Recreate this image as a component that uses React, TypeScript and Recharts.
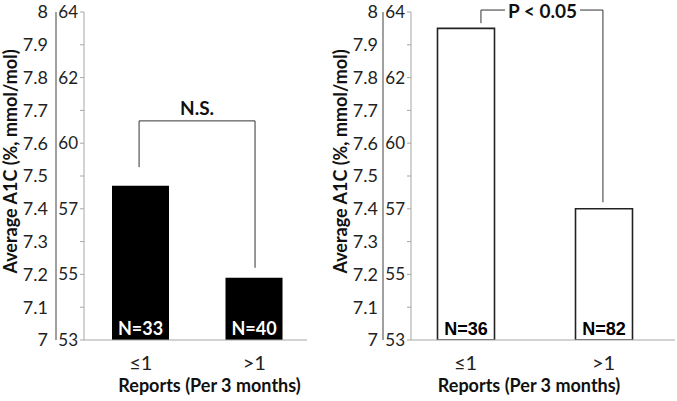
import React from 'react';
import { BarChart, Bar, XAxis, YAxis, ReferenceLine, ReferenceDot, LabelList } from 'recharts';

const categories = ['≤1', '>1'];
const leftValues = [7.47, 7.19];
const rightValues = [7.95, 7.4];
const leftCounts = ['N=33', 'N=40'];
const rightCounts = ['N=36', 'N=82'];
const pctTicks = [7, 7.1, 7.2, 7.3, 7.4, 7.5, 7.6, 7.7, 7.8, 7.9, 8];
const pctLabels = ['7', '7.1', '7.2', '7.3', '7.4', '7.5', '7.6', '7.7', '7.8', '7.9', '8'];
const mmolLabels = ['53', '', '55', '', '57', '', '60', '', '62', '', '64'];
const yTitle = 'Average A1C (%, mmol/mol)';
const xTitle = 'Reports (Per 3 months)';
const leftSig = 'N.S.';
const rightSig = 'P < 0.05';
// annotation positions: x as fraction of plot width, y in A1C %
const leftXTickFractions = [0, 0.489, 1];
const rightXTickFractions = [0, 0.477, 1];
const leftBracket = [
  [{ x: 0.247, y: 7.527 }, { x: 0.247, y: 7.668 }],
  [{ x: 0.247, y: 7.668 }, { x: 0.767, y: 7.668 }],
  [{ x: 0.767, y: 7.668 }, { x: 0.767, y: 7.22 }],
];
const rightBracket = [
  [{ x: 0.265, y: 7.966 }, { x: 0.265, y: 8.006 }],
  [{ x: 0.265, y: 8.006 }, { x: 0.356, y: 8.006 }],
  [{ x: 0.64, y: 8.006 }, { x: 0.727, y: 8.006 }],
  [{ x: 0.727, y: 8.006 }, { x: 0.727, y: 7.42 }],
];
const leftSigPos = { x: 0.507, y: 7.707 };
const rightSigPos = { x: 0.498, y: 8.003 };

const leftData = categories.map((c, i) => ({ cat: c, v: leftValues[i], n: leftCounts[i] }));
const rightData = categories.map((c, i) => ({ cat: c, v: rightValues[i], n: rightCounts[i] }));

const FONT = 'Lato, "Open Sans", sans-serif';
const AXIS_GRAY = '#a6a6a6';

const YTitle = ({ viewBox, dx = 10 }: any) => {
  const cx = viewBox.x + dx;
  const cy = viewBox.y + viewBox.height / 2 - 14.5;
  return (
    <text
      x={cx}
      y={cy}
      transform={`rotate(-90, ${cx}, ${cy})`}
      textAnchor="middle"
      dominantBaseline="central"
      style={{ fontFamily: FONT, fontWeight: 700, fontSize: 18, fill: '#111' }}
    >
      {yTitle}
    </text>
  );
};

const XTitle = ({ viewBox, shift = 0 }: any) => {
  const cx = viewBox.x + viewBox.width / 2 + shift;
  const cy = viewBox.y + 45;
  return (
    <text
      x={cx}
      y={cy}
      textAnchor="middle"
      dominantBaseline="central"
      style={{ fontFamily: FONT, fontWeight: 700, fontSize: 18, fill: '#111' }}
    >
      {xTitle}
    </text>
  );
};

const XTick = ({ x, y, payload }: any) => (
  <text
    x={x}
    y={y + 22}
    textAnchor="middle"
    dominantBaseline="central"
    style={{ fontFamily: FONT, fontSize: 20, fill: '#222' }}
  >
    {payload.value}
  </text>
);

type PanelProps = {
  data: any[];
  width: number;
  marginRight: number;
  pctWidth: number;
  pctMargin: number;
  padding: { left: number; right: number };
  xTickFractions: number[];
  bracket: { x: number; y: number }[][];
  sig: string;
  sigPos: { x: number; y: number };
  titleShift: number;
  filled: boolean;
};

const Panel = (p: PanelProps) => (
  <BarChart
    width={p.width}
    height={401}
    data={p.data}
    margin={{ top: 12, right: p.marginRight, bottom: 0, left: 0 }}
  >
    <XAxis
      xAxisId="num"
      type="number"
      domain={[0, 1]}
      ticks={p.xTickFractions}
      tick={false}
      tickLine={{ stroke: '#999', strokeWidth: 1 }}
      tickSize={5}
      axisLine={false}
      height={0}
      allowDataOverflow
    />
    <XAxis
      xAxisId="cat"
      dataKey="cat"
      type="category"
      height={61}
      padding={p.padding}
      axisLine={{ stroke: AXIS_GRAY }}
      tickLine={false}
      tickSize={0}
      tickMargin={0}
      tick={<XTick />}
      interval={0}
      label={<XTitle shift={p.titleShift} />}
    />
    <YAxis
      yAxisId="mmol"
      type="number"
      domain={[7, 8]}
      ticks={pctTicks}
      interval={0}
      allowDataOverflow
      width={28}
      tickSize={4}
      tickMargin={2}
      axisLine={{ stroke: AXIS_GRAY }}
      tickLine={{ stroke: AXIS_GRAY }}
      tickFormatter={(_v: any, i: number) => mmolLabels[i]}
      tick={{ fill: '#222', fontSize: 17, fontFamily: FONT }}
    />
    <YAxis
      yAxisId="pct"
      type="number"
      domain={[7, 8]}
      ticks={pctTicks}
      interval={0}
      allowDataOverflow
      width={p.pctWidth}
      tickSize={0}
      tickMargin={p.pctMargin}
      axisLine={{ stroke: '#808080', strokeWidth: 1.5 }}
      tickLine={false}
      tickFormatter={(_v: any, i: number) => pctLabels[i]}
      tick={{ fill: '#222', fontSize: 18, fontFamily: FONT }}
      label={<YTitle />}
    />
    <Bar
      dataKey="v"
      xAxisId="cat"
      yAxisId="pct"
      barSize={57}
      fill={p.filled ? '#000' : '#fff'}
      stroke={p.filled ? '#000' : '#222'}
      strokeWidth={p.filled ? 0 : 1.6}
      isAnimationActive={false}
    >
      <LabelList
        dataKey="n"
        position="insideBottom"
        offset={5}
        fill={p.filled ? '#fff' : '#000'}
        fontSize={18}
        fontWeight={700}
        fontFamily={p.filled ? FONT : '"Liberation Sans", Arial, sans-serif'}
      />
    </Bar>
    {p.bracket.map((seg, i) => (
      <ReferenceLine
        key={i}
        xAxisId="num"
        yAxisId="pct"
        segment={seg}
        stroke="#333"
        strokeWidth={1}
        ifOverflow="visible"
      />
    ))}
    <ReferenceDot
      xAxisId="num"
      yAxisId="pct"
      x={p.sigPos.x}
      y={p.sigPos.y}
      r={0}
      fill="none"
      stroke="none"
      ifOverflow="visible"
      label={{
        value: p.sig,
        position: 'center',
        fill: '#111',
        fontSize: 19,
        fontWeight: 700,
        fontFamily: FONT,
      }}
    />
  </BarChart>
);

export default function App() {
  return (
    <div style={{ position: 'absolute', left: 0, top: 0, width: 677, height: 401, background: '#fff' }}>
      <div style={{ position: 'absolute', left: 0, top: 0 }}>
        <Panel
          data={leftData}
          width={330}
          marginRight={23}
          pctWidth={56}
          pctMargin={8}
          padding={{ left: 0, right: -4 }}
          xTickFractions={leftXTickFractions}
          bracket={leftBracket}
          sig={leftSig}
          sigPos={leftSigPos}
          titleShift={14}
          filled={true}
        />
      </div>
      <div style={{ position: 'absolute', left: 330, top: 0 }}>
        <Panel
          data={rightData}
          width={347}
          marginRight={2}
          pctWidth={53}
          pctMargin={5}
          padding={{ left: -14.5, right: 2.5 }}
          xTickFractions={rightXTickFractions}
          bracket={rightBracket}
          sig={rightSig}
          sigPos={rightSigPos}
          titleShift={-14}
          filled={false}
        />
      </div>
    </div>
  );
}
